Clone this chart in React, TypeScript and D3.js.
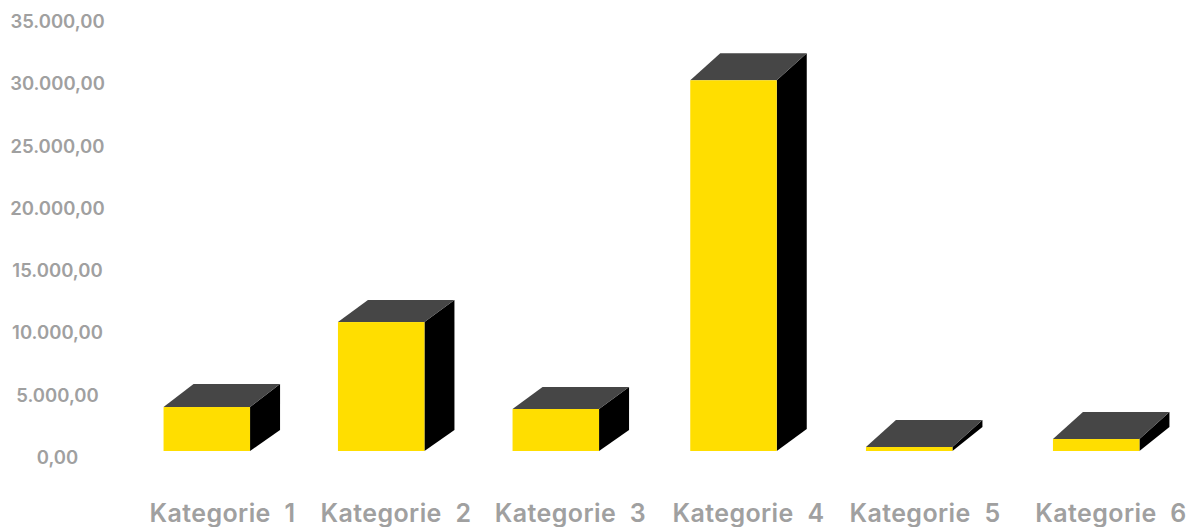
import React from "react";
import * as d3 from "d3";

// Chart data
const categories = ["Kategorie 1", "Kategorie 2", "Kategorie 3", "Kategorie 4", "Kategorie 5", "Kategorie 6"];
const values = [3530, 10350, 3370, 29760, 320, 960];
const yTicks = [0, 5000, 10000, 15000, 20000, 25000, 30000, 35000];
const tickLabels = ["0,00", "5.000,00", "10.000,00", "15.000,00", "20.000,00", "25.000,00", "30.000,00", "35.000,00"];

// Layout: slots are hand-spaced, so the category scale is ordinal with an explicit range
const barCentres = [206.8, 381.2, 555.8, 733.5, 909.2, 1096.2];
const labelCentres = [222.5, 396, 570.5, 748.5, 925, 1111];
const topRise = [23, 22, 22, 27, 27, 27];
const sideRise = [21, 21, 21, 22, 24, 24];
const barWidth = 86.5;
const depth = 30;

const W = 1189;
const H = 527;

const y = d3.scaleLinear().domain([0, 35000]).range([451, 15]);
const xBar = d3.scaleOrdinal<string, number>().domain(categories).range(barCentres);
const xLabel = d3.scaleOrdinal<string, number>().domain(categories).range(labelCentres);

const poly = (pts: [number, number][]) => (d3.line()(pts) ?? "") + "Z";

export default function App() {
  return (
    <svg width={W} height={H} style={{ position: "absolute", left: 0, top: 0, background: "#fff" }}
      fontFamily="Inter, 'Liberation Sans', sans-serif" fontWeight={600}>
      {/* Value axis labels, sitting slightly below their gridline positions */}
      {yTicks.map((t, i) => (
        <text key={t} x={57.5} y={y(t) + 13} textAnchor="middle" fontSize={18.5} fill="#a0a0a0">
          {tickLabels[i]}
        </text>
      ))}
      {/* Extruded bars: front, side and top faces */}
      {categories.map((c, i) => {
        const cx = xBar(c);
        const l = cx - barWidth / 2;
        const r = cx + barWidth / 2;
        const base = y(0);
        const top = y(values[i]);
        const rise = topRise[i];
        return (
          <g key={c}>
            <path d={poly([[r, top], [r + depth, top - rise], [r + depth, base - sideRise[i]], [r, base]])} fill="#000" />
            <path d={poly([[l, top], [l + depth, top - rise], [r + depth, top - rise], [r, top]])}
              fill="#464646" />
            <rect x={l} y={top} width={barWidth} height={base - top} fill="#ffde00" />
          </g>
        );
      })}
      {/* Category labels */}
      {categories.map((c) => (
        <text key={c} x={xLabel(c)} y={521.5} textAnchor="middle" fontSize={25} letterSpacing={0.4} wordSpacing={7} fill="#a0a0a0">
          {c}
        </text>
      ))}
    </svg>
  );
}
